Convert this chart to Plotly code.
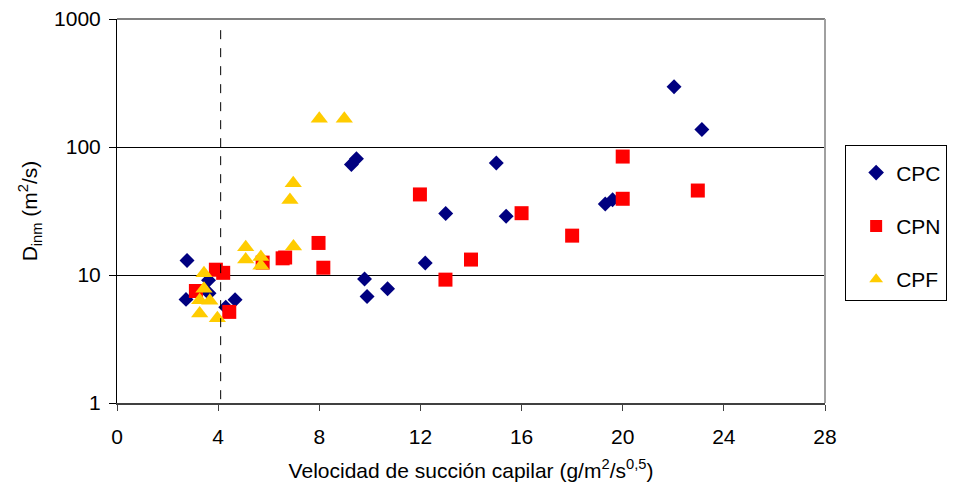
import plotly.graph_objects as go

# ---- data ----
cpc_x = [2.77, 2.73, 3.62, 3.64, 4.67, 4.30, 9.27, 9.47, 9.79, 10.70, 9.89, 12.19, 15.0, 13.0, 15.39, 19.31, 19.60, 22.03, 23.13]
cpc_y = [13.0, 6.45, 9.1, 7.2, 6.4, 5.6, 73.0, 81.0, 9.3, 7.8, 6.8, 12.4, 75.0, 30.2, 28.8, 35.8, 38.7, 296, 137]

cpn_x = [3.91, 4.20, 3.12, 4.44, 5.76, 6.55, 6.65, 7.97, 8.16, 11.98, 16.0, 14.0, 12.99, 18.0, 20.0, 20.0, 22.97]
cpn_y = [11.0, 10.4, 7.5, 5.15, 12.5, 13.5, 13.7, 17.8, 11.4, 42.6, 30.4, 13.2, 9.2, 20.3, 84.2, 39.4, 45.7]

cpf_x = [5.09, 5.09, 5.69, 5.69, 6.98, 3.44, 3.44, 3.27, 3.67, 3.27, 3.97, 6.97, 6.84, 8.0, 8.99]
cpf_y = [16.5, 13.2, 13.8, 11.8, 16.7, 10.3, 7.8, 6.35, 6.3, 5.0, 4.6, 52.0, 38.5, 166, 166]

threshold_x = 4.1
x_ticks = [0, 4, 8, 12, 16, 20, 24, 28]
y_ticks = [1, 10, 100, 1000]

FONT = "Liberation Sans, Arial, sans-serif"
FS = 21

fig = go.Figure()
fig.add_trace(go.Scatter(x=cpc_x, y=cpc_y, mode="markers", name="CPC", legendgroup="a",
                         marker=dict(symbol="diamond", size=11.5, color="#000080", line=dict(width=0))))
fig.add_trace(go.Scatter(x=cpn_x, y=cpn_y, mode="markers", name="CPN", legendgroup="b",
                         marker=dict(symbol="square", size=14, color="#FF0000", line=dict(width=0))))
fig.add_trace(go.Scatter(x=cpf_x, y=cpf_y, mode="markers", name="CPF", legendgroup="c",
                         marker=dict(symbol="triangle-up", size=15, color="#FFCC00", line=dict(width=0))))

# dashed threshold line
fig.add_shape(type="line", xref="x", yref="paper", x0=threshold_x, x1=threshold_x, y0=0.01, y1=0.985,
              line=dict(color="black", width=1, dash="dash"))
# top and right frame (gray)
fig.add_shape(type="line", xref="paper", yref="paper", x0=0, x1=1, y0=1, y1=1,
              line=dict(color="#808080", width=2))
fig.add_shape(type="line", xref="paper", yref="paper", x0=1, x1=1, y0=0, y1=1,
              line=dict(color="#A0A0A0", width=2))

fig.update_xaxes(range=[0, 28], tickvals=x_ticks, ticktext=[str(v) for v in x_ticks],
                 showgrid=False, zeroline=False, showline=True, linecolor="#404040", linewidth=2,
                 ticks="outside", ticklen=6, tickcolor="#404040", tickwidth=1,
                 ticklabelstandoff=8, automargin=False,
                 title=dict(text="Velocidad de succión capilar (g/m<sup>2</sup>/s<sup>0,5</sup>)",
                            font=dict(size=FS, color="black", family=FONT), standoff=16),
                 tickfont=dict(size=FS, color="black", family=FONT))
fig.update_yaxes(type="log", range=[0, 3], tickvals=y_ticks, ticktext=[str(v) for v in y_ticks],
                 showgrid=True, gridcolor="black", gridwidth=1, zeroline=False,
                 showline=True, linecolor="black", linewidth=1,
                 ticks="outside", ticklen=7, tickcolor="black", tickwidth=1,
                 ticklabelstandoff=4, automargin=False,
                 title=dict(text="D<sub>inm</sub> (m<sup>2</sup>/s)",
                            font=dict(size=FS, color="black", family=FONT), standoff=10),
                 tickfont=dict(size=FS, color="black", family=FONT))

fig.update_layout(
    width=958, height=491,
    margin=dict(l=117, r=132, t=19, b=88),
    plot_bgcolor="white", paper_bgcolor="white",
    font=dict(family=FONT, color="black"),
    showlegend=True,
    legend=dict(x=1.027, y=0.672, xanchor="left", yanchor="top",
                bordercolor="black", borderwidth=1, bgcolor="white",
                title=dict(text=" ", font=dict(size=5)),
                font=dict(size=FS, family=FONT, color="black"),
                tracegroupgap=23, entrywidth=76, indentation=10, itemsizing="constant"),
)

fig.write_html("out.html")
